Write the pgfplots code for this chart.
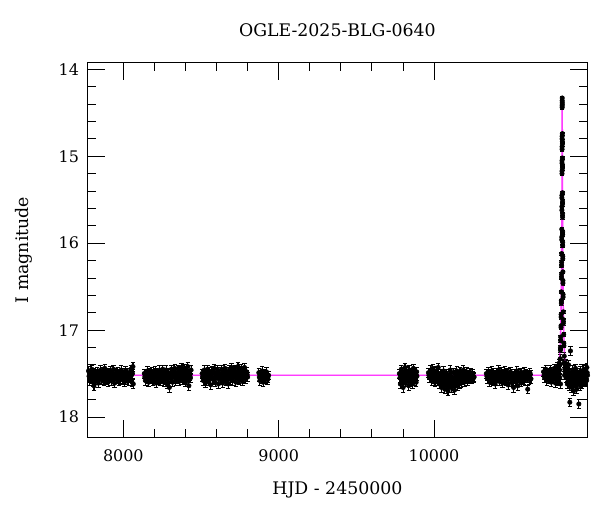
\documentclass[border=0pt]{standalone}
\usepackage{fontspec}
\setmainfont{DejaVu Serif}
\usepackage{pgfplots}
\pgfplotsset{compat=1.18}
\definecolor{model}{RGB}{255,60,255}

\begin{document}
\begin{tikzpicture}
\begin{axis}[
    name=ax,
    scale only axis,
    width=361pt, height=271pt,
    xmin=7768, xmax=10988,
    ymin=13.92, ymax=18.24,
    y dir=reverse,
    xtick={8000,9000,10000}, minor x tick num=4,
    ytick={14,15,16,17,18}, minor y tick num=4,
    scaled x ticks=false,
    tick align=inside,
    major tick length=13pt, minor tick length=6.5pt,
    axis line style={line width=0.8pt},
    tick style={line width=0.6pt, black},
    /pgf/number format/assume math mode=true,
    /pgf/number format/set thousands separator={},
    tick label style={font=\fontsize{11.5}{14}\selectfont},
    xticklabel style={yshift=-5pt},
    yticklabel style={xshift=-2.5pt},
    title={OGLE-2025-BLG-0640},
    title style={font=\fontsize{12.5}{15}\selectfont, at={(axis description cs:0.5,1)}, anchor=base, yshift=13pt},
    xlabel={HJD - 2450000},
    xlabel style={font=\fontsize{12.5}{15}\selectfont, at={(axis description cs:0.5,0)}, anchor=base, yshift=-41pt},
    ylabel={I magnitude},
    ylabel style={font=\fontsize{12.5}{15}\selectfont, at={(axis description cs:-0.118,0.5)}, anchor=base},
    photo/.style={only marks, mark=*, mark size=1.6pt, black,
        error bars/.cd, y dir=both, y fixed=#1, error bar style={line width=0.8pt, black}},
]
% model curve, below the points
\addplot[model, line width=1pt] coordinates {
(7768,17.52) (10700,17.52) (10775,17.51) (10795,17.48) (10805,17.39) (10811,17.24)
(10815,17.03) (10818,16.74) (10820,16.43) (10822,15.93) (10823,15.54) (10824,14.94)
(10825,14.33) (10826,14.94) (10827,15.54) (10828,15.93) (10830,16.43) (10832,16.74)
(10835,17.03) (10839,17.24) (10845,17.39) (10855,17.48) (10875,17.51) (10950,17.52) (10988,17.52)};

% baseline photometry
\addplot[photo=0.05] coordinates {
(7776,17.47) (7783,17.58) (7790,17.52) (7797,17.45) (7804,17.60) (7811,17.64) (7818,17.50)
(7825,17.55) (7832,17.48) (7839,17.61) (7846,17.53) (7853,17.46) (7860,17.57) (7867,17.51)
(7874,17.59) (7881,17.44) (7888,17.56) (7895,17.49) (7902,17.60) (7909,17.52) (7916,17.47)
(7923,17.58) (7930,17.54) (7937,17.45) (7944,17.61) (7951,17.50) (7958,17.56) (7965,17.48)
(7972,17.59) (7979,17.53) (7986,17.46) (7993,17.57) (8000,17.51) (8007,17.60) (8014,17.47)
(8021,17.55) (8028,17.49) (8035,17.58) (8042,17.52) (8049,17.45) (8056,17.60) (8062,17.42)
(8064,17.62)
(8135,17.50) (8142,17.58) (8149,17.53) (8156,17.47) (8163,17.60) (8170,17.51) (8177,17.56)
(8184,17.48) (8191,17.59) (8198,17.54) (8205,17.47) (8212,17.61) (8219,17.50) (8226,17.57)
(8233,17.46) (8240,17.59) (8247,17.52) (8254,17.45) (8261,17.60) (8268,17.53) (8275,17.46)
(8282,17.62) (8289,17.50) (8296,17.66) (8303,17.55) (8310,17.45) (8317,17.60) (8324,17.51)
(8331,17.44) (8338,17.58) (8345,17.52) (8352,17.45) (8359,17.59) (8366,17.49) (8373,17.43)
(8380,17.57) (8387,17.51) (8394,17.44) (8401,17.60) (8408,17.50) (8415,17.42) (8422,17.64)
(8429,17.53) (8436,17.46)
(8507,17.50) (8514,17.58) (8521,17.46) (8528,17.61) (8535,17.53) (8542,17.45) (8549,17.59)
(8556,17.51) (8563,17.63) (8570,17.47) (8577,17.56) (8584,17.44) (8591,17.60) (8598,17.52)
(8605,17.46) (8612,17.62) (8619,17.50) (8626,17.57) (8633,17.45) (8640,17.61) (8647,17.53)
(8654,17.44) (8661,17.59) (8668,17.51) (8675,17.62) (8682,17.46) (8689,17.55) (8696,17.43)
(8703,17.58) (8710,17.50) (8717,17.45) (8724,17.60) (8731,17.52) (8738,17.42) (8745,17.57)
(8752,17.49) (8759,17.44) (8766,17.59) (8773,17.51) (8780,17.43) (8787,17.56) (8794,17.48)
(8800,17.54)
(8872,17.49) (8879,17.58) (8886,17.53) (8893,17.47) (8900,17.60) (8907,17.51) (8914,17.56)
(8921,17.48) (8928,17.57) (8935,17.52)
(9777,17.50) (9783,17.62) (9789,17.45) (9795,17.57) (9801,17.66) (9807,17.52) (9813,17.43)
(9819,17.60) (9825,17.48) (9831,17.55) (9837,17.64) (9843,17.46) (9849,17.58) (9855,17.51)
(9861,17.62) (9867,17.44) (9873,17.56) (9879,17.49) (9885,17.60) (9890,17.53)
(9964,17.49) (9971,17.55) (9978,17.46) (9985,17.58) (9992,17.44) (9999,17.52) (10006,17.60)
(10013,17.47) (10020,17.56) (10027,17.43) (10034,17.62) (10041,17.50) (10048,17.66) (10055,17.54)
(10062,17.47) (10069,17.68) (10076,17.58) (10083,17.50) (10090,17.70) (10097,17.55) (10104,17.46)
(10111,17.66) (10118,17.60) (10125,17.49) (10132,17.69) (10139,17.54) (10146,17.47) (10153,17.64)
(10160,17.57) (10167,17.48) (10174,17.61) (10181,17.52) (10188,17.46) (10195,17.60) (10202,17.53)
(10209,17.48) (10216,17.58) (10223,17.51) (10230,17.55) (10237,17.49) (10244,17.56) (10251,17.52)
(10258,17.54)
(10337,17.50) (10344,17.56) (10351,17.48) (10358,17.60) (10365,17.53) (10372,17.47) (10379,17.58)
(10386,17.51) (10393,17.62) (10400,17.49) (10407,17.55) (10414,17.46) (10421,17.59) (10428,17.52)
(10435,17.48) (10442,17.61) (10449,17.54) (10456,17.47) (10463,17.58) (10470,17.50) (10477,17.63)
(10484,17.53) (10491,17.48) (10498,17.60) (10505,17.55) (10512,17.66) (10519,17.50) (10526,17.58)
(10533,17.47) (10540,17.64) (10547,17.53) (10554,17.49) (10561,17.60) (10568,17.52) (10575,17.57)
(10582,17.48) (10589,17.55) (10596,17.51) (10603,17.68) (10610,17.53) (10617,17.49) (10624,17.56)
(10705,17.48) (10712,17.55) (10719,17.45) (10726,17.58) (10733,17.50) (10740,17.53) (10747,17.46)
(10754,17.60) (10761,17.51) (10768,17.56) (10775,17.44) (10782,17.61) (10788,17.52) (10793,17.42)
(10798,17.58) (10802,17.47) (10806,17.38) (10809,17.55) (10812,17.33) (10814,17.62)
(10838,17.30) (10842,17.45) (10846,17.38) (10850,17.55) (10854,17.42) (10858,17.62) (10862,17.48)
(10866,17.40) (10870,17.58) (10874,17.83) (10878,17.24) (10882,17.52) (10886,17.66) (10890,17.46)
(10894,17.57) (10898,17.70) (10902,17.50) (10906,17.61) (10910,17.44) (10914,17.55) (10918,17.68)
(10922,17.49) (10926,17.59) (10932,17.85) (10936,17.52) (10940,17.64) (10944,17.47) (10948,17.56)
(10952,17.62) (10956,17.50) (10960,17.58) (10964,17.45) (10968,17.54) (10972,17.60) (10976,17.48)
(10980,17.56) (10984,17.43) (10988,17.52)};

% baseline photometry, in-between nights
\addplot[photo=0.05] coordinates {
(7779,17.53) (7786,17.50) (7793,17.56) (7800,17.52) (7807,17.49) (7814,17.55) (7821,17.57)
(7828,17.51) (7835,17.54) (7842,17.50) (7849,17.56) (7856,17.52) (7863,17.48) (7870,17.55)
(7877,17.53) (7884,17.50) (7891,17.57) (7898,17.52) (7905,17.49) (7912,17.55) (7919,17.51)
(7926,17.54) (7933,17.50) (7940,17.56) (7947,17.53) (7954,17.49) (7961,17.55) (7968,17.52)
(7975,17.50) (7982,17.56) (7989,17.53) (7996,17.49) (8003,17.55) (8010,17.52) (8017,17.50)
(8024,17.57) (8031,17.53) (8038,17.49) (8045,17.55) (8052,17.52) (8059,17.50)
(8138,17.54) (8145,17.51) (8152,17.56) (8159,17.52) (8166,17.49) (8173,17.55) (8180,17.52)
(8187,17.50) (8194,17.56) (8201,17.53) (8208,17.49) (8215,17.55) (8222,17.52) (8229,17.50)
(8236,17.56) (8243,17.53) (8250,17.49) (8257,17.55) (8264,17.51) (8271,17.57) (8278,17.53)
(8285,17.49) (8292,17.60) (8299,17.52) (8306,17.50) (8313,17.55) (8320,17.48) (8327,17.54)
(8334,17.50) (8341,17.56) (8348,17.49) (8355,17.53) (8362,17.47) (8369,17.55) (8376,17.50)
(8383,17.46) (8390,17.56) (8397,17.49) (8404,17.54) (8411,17.47) (8418,17.57) (8425,17.50)
(8432,17.55)
(8510,17.54) (8517,17.51) (8524,17.56) (8531,17.49) (8538,17.55) (8545,17.52) (8552,17.48)
(8559,17.56) (8566,17.53) (8573,17.50) (8580,17.57) (8587,17.49) (8594,17.55) (8601,17.52)
(8608,17.48) (8615,17.56) (8622,17.53) (8629,17.50) (8636,17.57) (8643,17.49) (8650,17.55)
(8657,17.52) (8664,17.48) (8671,17.56) (8678,17.53) (8685,17.49) (8692,17.57) (8699,17.50)
(8706,17.54) (8713,17.47) (8720,17.55) (8727,17.51) (8734,17.48) (8741,17.56) (8748,17.52)
(8755,17.47) (8762,17.54) (8769,17.49) (8776,17.55) (8783,17.50) (8790,17.52) (8797,17.51)
(8875,17.54) (8882,17.51) (8889,17.56) (8896,17.52) (8903,17.55) (8910,17.50) (8917,17.53)
(8924,17.52) (8931,17.55)
(9780,17.55) (9786,17.52) (9792,17.49) (9798,17.60) (9804,17.55) (9810,17.48) (9816,17.53)
(9822,17.57) (9828,17.51) (9834,17.47) (9840,17.55) (9846,17.52) (9852,17.60) (9858,17.49)
(9864,17.54) (9870,17.58) (9876,17.51) (9882,17.55) (9888,17.48)
(9967,17.52) (9974,17.49) (9981,17.54) (9988,17.51) (9995,17.56) (10002,17.48) (10009,17.53)
(10016,17.51) (10023,17.58) (10030,17.50) (10037,17.55) (10044,17.59) (10051,17.51) (10058,17.62)
(10065,17.55) (10072,17.52) (10079,17.64) (10086,17.57) (10093,17.62) (10100,17.52) (10107,17.58)
(10114,17.54) (10121,17.64) (10128,17.57) (10135,17.61) (10142,17.51) (10149,17.58) (10156,17.53)
(10163,17.62) (10170,17.55) (10177,17.50) (10184,17.57) (10191,17.53) (10198,17.50) (10205,17.56)
(10212,17.52) (10219,17.54) (10226,17.49) (10233,17.56) (10240,17.52) (10247,17.50) (10254,17.55)
(10340,17.53) (10347,17.51) (10354,17.55) (10361,17.50) (10368,17.57) (10375,17.53) (10382,17.49)
(10389,17.55) (10396,17.52) (10403,17.58) (10410,17.51) (10417,17.54) (10424,17.49) (10431,17.56)
(10438,17.53) (10445,17.50) (10452,17.57) (10459,17.52) (10466,17.55) (10473,17.49) (10480,17.56)
(10487,17.52) (10494,17.55) (10501,17.50) (10508,17.58) (10515,17.54) (10522,17.52) (10529,17.60)
(10536,17.55) (10543,17.50) (10550,17.57) (10557,17.53) (10564,17.49) (10571,17.55) (10578,17.52)
(10585,17.58) (10592,17.50) (10599,17.55) (10606,17.52) (10613,17.57) (10620,17.51)
(10708,17.52) (10715,17.50) (10722,17.54) (10729,17.49) (10736,17.56) (10743,17.51) (10750,17.54)
(10757,17.48) (10764,17.55) (10771,17.50) (10778,17.53) (10785,17.47) (10790,17.56) (10795,17.50)
(10800,17.44) (10804,17.52) (10808,17.46) (10811,17.40)
(10836,17.38) (10840,17.52) (10844,17.48) (10848,17.44) (10852,17.50) (10856,17.54) (10860,17.45)
(10864,17.55) (10868,17.50) (10872,17.64) (10876,17.53) (10880,17.58) (10884,17.49) (10888,17.55)
(10892,17.61) (10896,17.52) (10900,17.58) (10904,17.54) (10908,17.64) (10912,17.50) (10916,17.58)
(10920,17.53) (10924,17.62) (10928,17.51) (10934,17.57) (10938,17.54) (10942,17.58) (10946,17.51)
(10950,17.55) (10954,17.58) (10958,17.53) (10962,17.52) (10966,17.57) (10970,17.50) (10974,17.55)
(10978,17.52) (10982,17.58) (10986,17.49)};

% event photometry
\addplot[photo=0.02] coordinates {
(10825.0,14.33) (10824.8,14.36) (10825.1,14.38) (10825.3,14.40) (10824.7,14.42) (10824.6,14.44)
(10825.8,14.74) (10824.3,14.77) (10824.2,14.80) (10825.8,14.83) (10825.9,14.86) (10824.1,14.89) (10824.1,14.92)
(10826.2,15.02) (10823.8,15.05) (10823.8,15.08) (10826.2,15.11) (10826.3,15.14) (10823.7,15.17) (10823.7,15.20)
(10826.9,15.42) (10823.1,15.45) (10823.1,15.48) (10827.0,15.52) (10827.0,15.55) (10823.0,15.58)
(10823.0,15.62) (10827.1,15.66) (10827.2,15.70)
(10822.3,15.84) (10827.8,15.87) (10827.8,15.90) (10822.2,15.93) (10822.2,15.96) (10828.0,15.99) (10828.0,16.03)
(10821.5,16.12) (10828.5,16.15) (10828.6,16.18) (10821.4,16.22) (10821.3,16.26)
(10829.3,16.33) (10820.6,16.36) (10820.6,16.40) (10829.6,16.43) (10829.6,16.46)
(10819.6,16.56) (10830.5,16.59) (10830.6,16.62) (10819.3,16.66) (10819.2,16.69)
(10831.9,16.79) (10817.9,16.82) (10817.8,16.85) (10832.3,16.88) (10832.5,16.92) (10817.4,16.95) (10817.3,16.97)
(10834.7,17.05) (10815.2,17.08) (10815.0,17.12) (10835.5,17.15) (10836.0,17.18) (10813.8,17.20) (10813.6,17.23)};

% model curve again, faintly on top
\addplot[model, line width=1pt, opacity=0.35] coordinates {
(7768,17.52) (10700,17.52) (10775,17.51) (10795,17.48) (10805,17.39) (10811,17.24)
(10815,17.03) (10818,16.74) (10820,16.43) (10822,15.93) (10823,15.54) (10824,14.94)
(10825,14.33) (10826,14.94) (10827,15.54) (10828,15.93) (10830,16.43) (10832,16.74)
(10835,17.03) (10839,17.24) (10845,17.39) (10855,17.48) (10875,17.51) (10950,17.52) (10988,17.52)};
\end{axis}
\path ([shift={(-63pt,-54pt)}]ax.south west) rectangle ([shift={(9pt,45pt)}]ax.north east);
\end{tikzpicture}
\end{document}
